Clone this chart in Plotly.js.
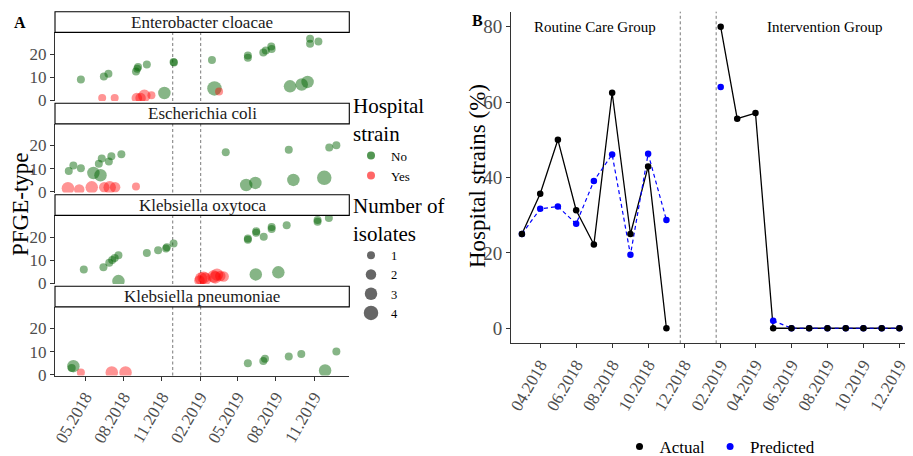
<!DOCTYPE html>
<html><head><meta charset="utf-8">
<script src="https://cdn.plot.ly/plotly-3.0.1.min.js"></script>
<style>html,body{margin:0;padding:0;background:#fff}#chart{width:913px;height:456px}</style>
</head><body><div id="chart"></div>
<script>
// ================= DATA =================
// Panel A: PFGE types by species over time
const speciesNames = ['Enterobacter cloacae','Escherichia coli','Klebsiella oxytoca','Klebsiella pneumoniae'];
const hospitalLevels = ['No','Yes'];
const isolateLevels = [1,2,3,4];

const ecDates = ['2018-04-21','2018-06-15','2018-06-26','2018-08-31','2018-09-05','2018-09-03','2018-09-26','2018-11-07','2018-11-29','2018-11-30','2019-03-01','2019-03-07','2019-05-26','2019-05-26','2019-07-02','2019-07-08','2019-07-21','2019-07-22','2019-09-04','2019-10-02','2019-10-16','2019-10-22','2019-10-22','2019-11-11',
  '2018-06-11','2018-07-11','2018-09-02','2018-09-11','2018-09-20','2018-10-07','2019-03-18'];
const ecPFGE = [9.0,10.3,11.5,12.4,14.4,13.6,15.4,3.1,16.5,16.3,17.4,5.1,19.4,18.4,20.6,21.5,23.2,22.2,6.0,6.8,7.9,26.6,24.4,25.4,
  1.0,1.0,1.0,1.0,1.9,2.1,3.8];
const ecIsolates = [1,1,1,1,1,1,1,3,1,1,1,4,1,1,1,1,1,1,3,3,3,1,1,1,
  1,1,2,2,3,1,1];
const ecHospital = ['No','No','No','No','No','No','No','No','No','No','No','No','No','No','No','No','No','No','No','No','No','No','No','No',
  'Yes','Yes','Yes','Yes','Yes','Yes','Yes'];

const ecoDates = ['2018-03-23','2018-04-03','2018-04-21','2018-05-21','2018-06-07','2018-06-03','2018-06-10','2018-06-27','2018-07-03','2018-07-27','2019-04-03','2019-05-22','2019-06-13','2019-09-01','2019-09-12','2019-11-25','2019-12-07','2019-12-24',
  '2018-03-21','2018-04-17','2018-05-17','2018-06-16','2018-06-29','2018-07-12','2018-08-31'];
const ecoPFGE = [9.0,11.3,10.1,8.1,7.1,12.1,14.4,13.1,15.3,16.2,17.1,2.9,3.8,18.2,5.1,6.0,19.1,20.1,
  1.5,1.0,1.9,1.9,1.9,1.9,2.2];
const ecoIsolates = [1,1,1,3,3,1,1,1,1,1,1,3,3,1,3,4,1,1,
  3,2,3,2,3,2,1];
const ecoHospital = ['No','No','No','No','No','No','No','No','No','No','No','No','No','No','No','No','No','No',
  'Yes','Yes','Yes','Yes','Yes','Yes','Yes'];

const koDates = ['2018-04-28','2018-06-14','2018-06-28','2018-07-05','2018-07-11','2018-07-20','2018-07-20','2018-09-26','2018-10-23','2018-11-13','2018-11-11','2018-11-29','2019-05-26','2019-05-26','2019-06-15','2019-06-15','2019-06-14','2019-07-03','2019-07-22','2019-07-22','2019-08-07','2019-08-27','2019-11-09','2019-11-09','2019-12-06',
  '2019-01-30','2019-02-03','2019-02-09','2019-02-13','2019-03-05','2019-03-09','2019-03-13','2019-03-21','2019-03-29'];
const koPFGE = [5.9,6.9,8.8,10.0,10.9,12.1,0.9,13.1,14.3,15.6,15.0,17.2,18.8,19.4,21.8,22.5,3.8,20.1,23.5,24.3,4.7,25.1,26.6,27.4,28.2,
  1.2,2.0,2.4,1.9,2.9,2.5,3.7,3.1,2.9];
const koIsolates = [1,1,1,1,1,1,3,1,1,1,1,1,1,1,1,1,3,1,1,1,3,1,1,1,1,
  2,3,3,3,3,3,3,2,2];
const koHospital = ['No','No','No','No','No','No','No','No','No','No','No','No','No','No','No','No','No','No','No','No','No','No','No','No','No',
  'Yes','Yes','Yes','Yes','Yes','Yes','Yes','Yes','Yes'];

const kpDates = ['2018-03-30','2018-04-03','2019-05-26','2019-07-02','2019-07-06','2019-09-01','2019-10-01','2019-11-27','2019-12-24',
  '2018-04-21','2018-07-04','2018-08-06'];
const kpPFGE = [2.9,3.7,4.9,5.9,6.9,7.9,9.0,1.8,10.0,
  0.9,1.0,1.0];
const kpIsolates = [1,3,1,1,1,1,1,3,1,
  1,3,3];
const kpHospital = ['No','No','No','No','No','No','No','No','No',
  'Yes','Yes','Yes'];

// Panel B: hospital strains (%) per month
const months = ['2018-03-01','2018-04-01','2018-05-01','2018-06-01','2018-07-01','2018-08-01','2018-09-01','2018-10-01','2018-11-01','2018-12-01','2019-01-01',
  '2019-02-01','2019-03-01','2019-04-01','2019-05-01','2019-06-01','2019-07-01','2019-08-01','2019-09-01','2019-10-01','2019-11-01','2019-12-01'];
const actualPct = [25,35.7,50,31.3,22.2,62.5,25,42.9,0,null,null,
  80,55.6,57.1,0,0,0,0,0,0,0,0];
const predictedPct = [25,31.7,32.3,27.7,39.1,46.1,19.5,46.3,28.7,null,null,
  64,null,null,2,0,0,0,0,0,0,0];
const seriesNames = ['Actual','Predicted'];
const groupLabels = ['Routine Care Group','Intervention Group'];
const panelLetters = ['A','B'];

// ================= STYLE / LAYOUT HELPERS =================
const W = 913, H = 456;
const SERIF = 'Liberation Serif';
const GREEN = 'rgba(0,100,0,0.68)';
const RED = 'rgba(255,0,0,0.6)';
const GREY = 'rgba(0,0,0,0.6)';
const TICKC = '#4d4d4d';
const diam = n => [0, 8, 10.5, 12.5, 14.5][n];
const px = x => x / W;
const py = y => 1 - y / H;
const f = (size, color, extra) => Object.assign({ size: size, family: SERIF, color: color || '#000' }, extra || {});

const speciesData = [
  [ecDates, ecPFGE, ecIsolates, ecHospital],
  [ecoDates, ecoPFGE, ecoIsolates, ecoHospital],
  [koDates, koPFGE, koIsolates, koHospital],
  [kpDates, kpPFGE, kpIsolates, kpHospital]
];

// facet geometry (pixels)
const aLeft = 55, aRight = 349.3;
const blockTop0 = 11.7, blockStep = 91.5, stripH = 20.7, panelH = 68.6;

const traces = [];
speciesData.forEach((d, s) => {
  const yname = s === 0 ? 'y' : 'y' + (s + 1);
  hospitalLevels.forEach(h => {
    const idx = d[3].map((v, i) => v === h ? i : -1).filter(i => i >= 0);
    traces.push({
      type: 'scatter', mode: 'markers', xaxis: 'x', yaxis: yname,
      x: idx.map(i => d[0][i]), y: idx.map(i => d[1][i]),
      marker: { color: h === 'No' ? GREEN : RED, size: idx.map(i => diam(d[2][i])), sizemode: 'diameter', line: { width: 0 } },
      showlegend: false, hoverinfo: 'skip'
    });
  });
});

// legend-only entries for panel A
hospitalLevels.forEach(h => traces.push({
  type: 'scatter', mode: 'markers', x: [null], y: [null], xaxis: 'x', yaxis: 'y',
  name: h, legend: 'legend', marker: { color: h === 'No' ? GREEN : RED, size: 8, line: { width: 0 } }
}));
isolateLevels.forEach(n => traces.push({
  type: 'scatter', mode: 'markers', x: [null], y: [null], xaxis: 'x', yaxis: 'y',
  name: String(n), legend: 'legend2', marker: { color: GREY, size: diam(n), line: { width: 0 } }
}));

// Panel B
traces.push({ type: 'scatter', mode: 'lines', x: months, y: actualPct, xaxis: 'x2', yaxis: 'y5',
  line: { color: '#000', width: 1.3 }, showlegend: false, connectgaps: false });
traces.push({ type: 'scatter', mode: 'lines+markers', x: months, y: predictedPct, xaxis: 'x2', yaxis: 'y5',
  line: { color: '#0000ff', width: 1.2, dash: '4px,3px' }, marker: { color: '#0000ff', size: 6.5 }, showlegend: false, connectgaps: false });
traces.push({ type: 'scatter', mode: 'markers', x: months, y: actualPct, xaxis: 'x2', yaxis: 'y5',
  marker: { color: '#000', size: 6.5 }, showlegend: false });
seriesNames.forEach((n, i) => traces.push({
  type: 'scatter', mode: 'markers', x: [null], y: [null], xaxis: 'x2', yaxis: 'y5',
  name: n, legend: 'legend3', marker: { color: i === 0 ? '#000' : '#0000ff', size: 7 }
}));

const axisCommon = {
  showline: true, linecolor: '#333', linewidth: 1, ticks: 'outside', ticklen: 4, tickcolor: '#333',
  showgrid: false, zeroline: false, automargin: false, fixedrange: true, ticklabeloverflow: 'allow'
};

const layout = {
  width: W, height: H, margin: { l: 0, r: 0, t: 0, b: 0, autoexpand: false },
  paper_bgcolor: '#fff', plot_bgcolor: 'rgba(0,0,0,0)',
  font: f(14),
  showlegend: true, hovermode: false,
  xaxis: Object.assign({}, axisCommon, {
    domain: [px(aLeft), px(aRight)], anchor: 'y4', type: 'date',
    range: ['2018-02-18', '2020-01-24'], tick0: '2018-05-01', dtick: 'M3', tickformat: '%m.%Y',
    tickangle: -60, tickfont: f(17, TICKC)
  }),
  xaxis2: Object.assign({}, axisCommon, {
    domain: [px(511), px(905)], anchor: 'y5', type: 'date',
    range: ['2018-02-10 12:00', '2019-12-10 12:00'], tick0: '2018-04-01', dtick: 'M2', tickformat: '%m.%Y',
    tickangle: -60, tickfont: f(17, TICKC)
  }),
  yaxis5: Object.assign({}, axisCommon, {
    domain: [py(343.3), py(11.7)], anchor: 'x2', range: [-4, 84], tickvals: [0, 20, 40, 60, 80],
    tickfont: f(19, TICKC)
  }),
  legend: {
    x: px(351), y: py(86), xanchor: 'left', yanchor: 'top', bgcolor: 'rgba(0,0,0,0)',
    title: { text: 'Hospital<br>strain', font: f(21) },
    font: f(13), itemsizing: 'trace', tracegroupgap: 0
  },
  legend2: {
    x: px(351), y: py(186), xanchor: 'left', yanchor: 'top', bgcolor: 'rgba(0,0,0,0)',
    title: { text: 'Number of<br>isolates', font: f(21) },
    font: f(12.5), itemsizing: 'trace', tracegroupgap: 0
  },
  legend3: {
    orientation: 'h', x: px(720), y: py(447), xanchor: 'center', yanchor: 'middle', bgcolor: 'rgba(0,0,0,0)',
    font: f(17), itemsizing: 'trace'
  },
  shapes: [], annotations: []
};

const dashA = ['2018-11-27', '2019-02-02'];
const dashB = ['2018-11-24 12:00', '2019-01-24 08:00'];
const dashStyle = { color: '#555', width: 0.8, dash: '3px,2.5px' };

speciesNames.forEach((name, s) => {
  const top = blockTop0 + s * blockStep;
  const yKey = s === 0 ? 'yaxis' : 'yaxis' + (s + 1);
  const yRef = s === 0 ? 'y' : 'y' + (s + 1);
  layout[yKey] = Object.assign({}, axisCommon, {
    domain: [py(top + stripH + panelH), py(top + stripH)], anchor: 'x',
    range: [-0.35, 29.35], tickvals: [0, 10, 20],
    tickfont: f(17, TICKC)
  });
  dashA.forEach(d => layout.shapes.push({
    type: 'line', xref: 'x', yref: yRef + ' domain', x0: d, x1: d, y0: 0, y1: 1,
    line: dashStyle, layer: 'below'
  }));
  layout.shapes.push({
    type: 'rect', xref: 'paper', yref: 'paper', x0: px(aLeft), x1: px(aRight),
    y0: py(top + stripH), y1: py(top), line: { color: '#000', width: 1.1 }, fillcolor: '#fff', layer: 'above'
  });
  layout.annotations.push({
    xref: 'paper', yref: 'paper', x: px((aLeft + aRight) / 2), y: py(top + stripH / 2),
    xanchor: 'center', yanchor: 'middle', text: name, showarrow: false,
    font: f(17, '#1a1a1a')
  });
});

dashB.forEach(d => layout.shapes.push({
  type: 'line', xref: 'x2', yref: 'y5 domain', x0: d, x1: d, y0: 0, y1: 1,
  line: dashStyle, layer: 'below'
}));

layout.annotations.push(
  { xref: 'paper', yref: 'paper', x: px(20), y: py(22), text: '<b>' + panelLetters[0] + '</b>', showarrow: false,
    xanchor: 'center', yanchor: 'middle', font: f(16) },
  { xref: 'paper', yref: 'paper', x: px(477), y: py(20), text: '<b>' + panelLetters[1] + '</b>', showarrow: false,
    xanchor: 'center', yanchor: 'middle', font: f(16) },
  { xref: 'paper', yref: 'paper', x: px(20), y: py(204), text: 'PFGE-type', textangle: -90, showarrow: false,
    xanchor: 'center', yanchor: 'middle', font: f(23) },
  { xref: 'paper', yref: 'paper', x: px(477), y: py(176), text: 'Hospital strains (%)', textangle: -90, showarrow: false,
    xanchor: 'center', yanchor: 'middle', font: f(23) },
  { xref: 'paper', yref: 'paper', x: px(595), y: py(27), text: groupLabels[0], showarrow: false,
    xanchor: 'center', yanchor: 'middle', font: f(15) },
  { xref: 'paper', yref: 'paper', x: px(824), y: py(27), text: groupLabels[1], showarrow: false,
    xanchor: 'center', yanchor: 'middle', font: f(15) }
);

Plotly.newPlot('chart', traces, layout, { staticPlot: true, displayModeBar: false });
</script>
</body></html>
